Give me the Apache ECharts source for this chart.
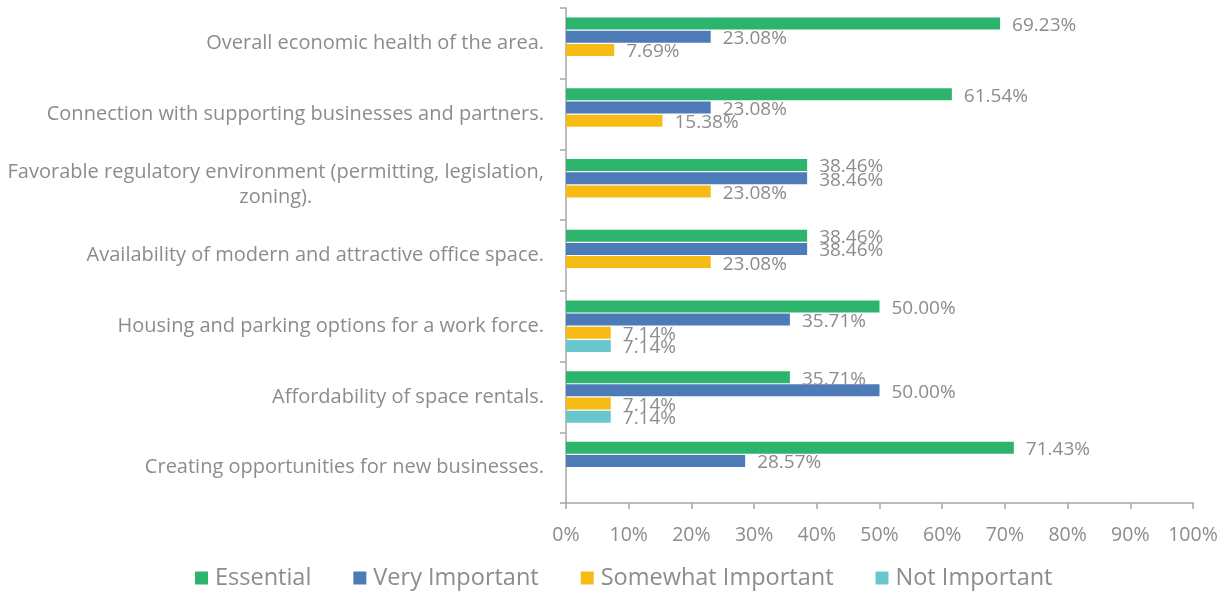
<!DOCTYPE html>
<html>
<head>
<meta charset="utf-8">
<script src="https://cdn.jsdelivr.net/npm/echarts@6/dist/echarts.min.js"></script>
<style>
  html, body { margin: 0; padding: 0; background: #fff; }
  #main { width: 1230px; height: 596px; }
</style>
</head>
<body>
<div id="main"></div>
<script>
// categories, top to bottom as in the picture
const categories = [
  'Overall economic health of the area.',
  'Connection with supporting businesses and partners.',
  'Favorable regulatory environment (permitting, legislation,\nzoning).',
  'Availability of modern and attractive office space.',
  'Housing and parking options for a work force.',
  'Affordability of space rentals.',
  'Creating opportunities for new businesses.'
]
const seriesNames = ['Essential', 'Very Important', 'Somewhat Important', 'Not Important']
const essential = [69.23, 61.54, 38.46, 38.46, 50.00, 35.71, 71.43]
const veryImportant = [23.08, 23.08, 38.46, 38.46, 35.71, 50.00, 28.57]
const somewhatImportant = [7.69, 15.38, 23.08, 23.08, 7.14, 7.14, null]
const notImportant = [null, null, null, null, 7.14, 7.14, null]
const xTicks = [0, 10, 20, 30, 40, 50, 60, 70, 80, 90, 100]

const colors = ['#2DB46C', '#4C7BB8', '#F6BB15', '#67C7CB']
const gray = '#8C8C8C'
const axisGray = '#A6A6A6'
const font = '"Open Sans", Lato, sans-serif'

const allValues = [essential, veryImportant, somewhatImportant, notImportant]

var myChart = echarts.init(document.getElementById('main'))

myChart.setOption({
    animation: false,
    color: colors,
    textStyle: { fontFamily: font },
    grid: { left: 566, right: 37, top: 8, bottom: 93 },
    legend: {
        bottom: 1,
        left: 190,
        icon: 'rect',
        itemWidth: 13,
        itemHeight: 13,
        itemGap: 42,
        textStyle: { color: gray, fontSize: 23.5, fontFamily: font, padding: [0, 0, 0, 2] },
        data: seriesNames
    },
    xAxis: {
        type: 'value',
        min: xTicks[0],
        max: xTicks[xTicks.length - 1],
        interval: 10,
        splitLine: { show: false },
        axisLine: { show: true, lineStyle: { color: axisGray, width: 1.5 } },
        axisTick: { show: true, length: 6, lineStyle: { color: axisGray, width: 1.5 } },
        axisLabel: {
            color: gray, fontSize: 19.5, margin: 22,
            formatter: v => v + '%'
        }
    },
    yAxis: {
        type: 'category',
        inverse: true,
        data: categories,
        axisLine: { show: true, lineStyle: { color: axisGray, width: 1.5 } },
        axisTick: { show: true, length: 6, lineStyle: { color: axisGray, width: 1.5 } },
        axisLabel: {
            color: gray, fontSize: 20, margin: 22,
            formatter: v => v.indexOf('\n') >= 0
                ? v.split('\n').map(s => '{c|' + s + '}').join('\n')
                : v,
            rich: { c: { align: 'center', color: gray, fontSize: 20, lineHeight: 25 } }
        }
    },
    series: seriesNames.map((name, i) => ({
        name: name,
        type: 'bar',
        data: allValues[i],
        barWidth: 12,
        barGap: '10%',
        label: {
            show: true,
            position: 'right',
            distance: 12,
            offset: [0, 2],
            color: gray,
            fontSize: 19,
            formatter: p => p.value == null ? '' : p.value.toFixed(2) + '%'
        }
    }))
})
</script>
</body>
</html>
